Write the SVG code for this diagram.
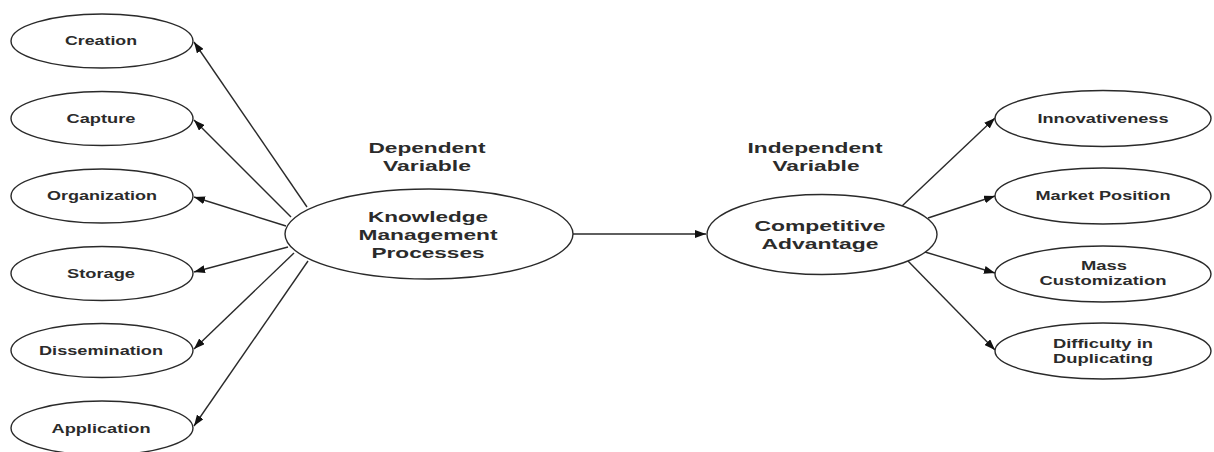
<svg xmlns="http://www.w3.org/2000/svg" width="1214" height="452" viewBox="0 0 1214 452">
  <style>
    .node ellipse { fill: #ffffff; stroke: #2a2a2a; stroke-width: 1.4; }
    .lbl { font-family: "Liberation Sans", Arial, sans-serif; font-weight: bold; font-size: 13px; fill: #2b2b2b; text-anchor: middle; dominant-baseline: central; }
    .big { font-size: 15px; }
    .edge { stroke: #2a2a2a; stroke-width: 1.4; fill: none; marker-end: url(#arrow); }
  </style>
  <defs>
    <marker id="arrow" markerUnits="userSpaceOnUse" markerWidth="12" markerHeight="8" refX="11" refY="4" orient="auto">
      <path d="M0,0 L11,4 L0,8 Z" fill="#111111"/>
    </marker>
  </defs>
  <rect width="1214" height="452" fill="#ffffff"/>

  <!-- connectors -->
  <g id="connectors">
    <line class="edge" x1="307" y1="207" x2="194" y2="42"/>
    <line class="edge" x1="291" y1="217" x2="194" y2="120"/>
    <line class="edge" x1="286" y1="226" x2="194" y2="197"/>
    <line class="edge" x1="288" y1="247" x2="194" y2="272"/>
    <line class="edge" x1="294" y1="253" x2="194" y2="349"/>
    <line class="edge" x1="308" y1="261" x2="194" y2="426"/>
    <line class="edge" x1="573" y1="234" x2="706" y2="234"/>
    <line class="edge" x1="902" y1="206" x2="995" y2="118"/>
    <line class="edge" x1="928" y1="218" x2="995" y2="196"/>
    <line class="edge" x1="925" y1="252" x2="995" y2="273"/>
    <line class="edge" x1="907" y1="260" x2="995" y2="350"/>
  </g>

  <!-- axis captions -->
  <g id="caption-dependent">
    <text class="lbl big" x="427" y="147" textLength="117" lengthAdjust="spacingAndGlyphs">Dependent</text>
    <text class="lbl big" x="427" y="165" textLength="88" lengthAdjust="spacingAndGlyphs">Variable</text>
  </g>
  <g id="caption-independent">
    <text class="lbl big" x="815" y="147" textLength="135" lengthAdjust="spacingAndGlyphs">Independent</text>
    <text class="lbl big" x="816" y="165" textLength="87" lengthAdjust="spacingAndGlyphs">Variable</text>
  </g>

  <!-- central nodes -->
  <g id="km-processes" class="node">
    <ellipse cx="429" cy="234" rx="144" ry="45"/>
    <text class="lbl big" x="428" y="216" textLength="120" lengthAdjust="spacingAndGlyphs">Knowledge</text>
    <text class="lbl big" x="428" y="234" textLength="139" lengthAdjust="spacingAndGlyphs">Management</text>
    <text class="lbl big" x="428" y="252" textLength="113" lengthAdjust="spacingAndGlyphs">Processes</text>
  </g>
  <g id="competitive-advantage" class="node">
    <ellipse cx="822" cy="234.5" rx="115" ry="40"/>
    <text class="lbl big" x="820" y="225" textLength="131" lengthAdjust="spacingAndGlyphs">Competitive</text>
    <text class="lbl big" x="820" y="243" textLength="117" lengthAdjust="spacingAndGlyphs">Advantage</text>
  </g>

  <!-- process nodes -->
  <g id="creation" class="node">
    <ellipse cx="102" cy="41" rx="91" ry="27"/>
    <text class="lbl" x="101" y="40" textLength="72" lengthAdjust="spacingAndGlyphs">Creation</text>
  </g>
  <g id="capture" class="node">
    <ellipse cx="102" cy="118.5" rx="91" ry="27"/>
    <text class="lbl" x="101" y="118" textLength="69" lengthAdjust="spacingAndGlyphs">Capture</text>
  </g>
  <g id="organization" class="node">
    <ellipse cx="102" cy="196" rx="91" ry="27"/>
    <text class="lbl" x="102" y="195" textLength="110" lengthAdjust="spacingAndGlyphs">Organization</text>
  </g>
  <g id="storage" class="node">
    <ellipse cx="102" cy="273.5" rx="91" ry="27"/>
    <text class="lbl" x="101" y="273" textLength="68" lengthAdjust="spacingAndGlyphs">Storage</text>
  </g>
  <g id="dissemination" class="node">
    <ellipse cx="102" cy="350.5" rx="91" ry="27"/>
    <text class="lbl" x="101" y="350" textLength="124" lengthAdjust="spacingAndGlyphs">Dissemination</text>
  </g>
  <g id="application" class="node">
    <ellipse cx="102" cy="428" rx="91" ry="27"/>
    <text class="lbl" x="101" y="428" textLength="99" lengthAdjust="spacingAndGlyphs">Application</text>
  </g>

  <!-- advantage dimension nodes -->
  <g id="innovativeness" class="node">
    <ellipse cx="1103" cy="118.5" rx="108" ry="28"/>
    <text class="lbl" x="1103" y="118" textLength="131" lengthAdjust="spacingAndGlyphs">Innovativeness</text>
  </g>
  <g id="market-position" class="node">
    <ellipse cx="1103" cy="196" rx="108" ry="28"/>
    <text class="lbl" x="1103" y="195" textLength="135" lengthAdjust="spacingAndGlyphs">Market Position</text>
  </g>
  <g id="mass-customization" class="node">
    <ellipse cx="1103" cy="274" rx="108" ry="28"/>
    <text class="lbl" x="1104" y="265" textLength="46" lengthAdjust="spacingAndGlyphs">Mass</text>
    <text class="lbl" x="1103" y="280" textLength="127" lengthAdjust="spacingAndGlyphs">Customization</text>
  </g>
  <g id="difficulty-duplicating" class="node">
    <ellipse cx="1103" cy="351" rx="108" ry="28"/>
    <text class="lbl" x="1103" y="343" textLength="100" lengthAdjust="spacingAndGlyphs">Difficulty in</text>
    <text class="lbl" x="1103" y="358" textLength="100" lengthAdjust="spacingAndGlyphs">Duplicating</text>
  </g>
</svg>
